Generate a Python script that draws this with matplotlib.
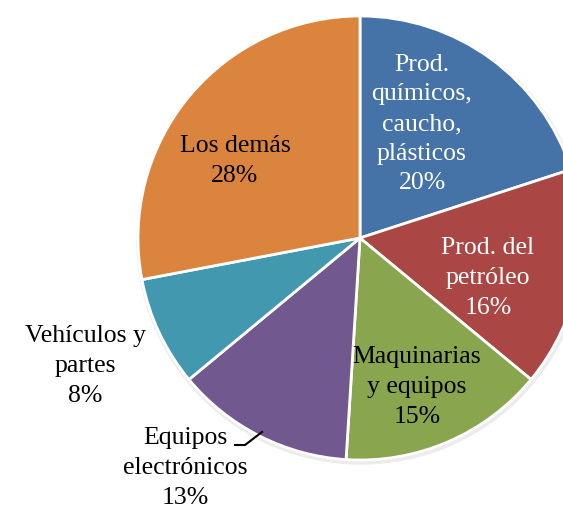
import matplotlib.pyplot as plt

categories = ['Prod.\nquímicos,\ncaucho,\nplásticos', 'Prod. del\npetróleo',
              'Maquinarias\ny equipos', 'Equipos\nelectrónicos',
              'Vehículos y\npartes', 'Los demás']
shares = [20, 16, 15, 13, 8, 28]
colors = ['#4572A7', '#AA4643', '#89A54E', '#71588F', '#4198AF', '#DB843D']
text_colors = ['white', 'white', 'black', 'black', 'black', 'black']
# label centres in pixel coordinates (x, y from top)
label_pos = [(422, 124), (488, 278), (417, 387), (185, 468), (85, 366), (235, 161)]

W, H = 563, 509
fig = plt.figure(figsize=(W / 100, H / 100), dpi=100)
ax = fig.add_axes([0, 0, 1, 1])

cx, cy, r = 360, H - 238, 222

# faint shadow round the pie
shadow = plt.Circle((cx + 1, cy - 2), r + 2, color='#ececec', zorder=0)
ax.add_patch(shadow)

ax.pie(shares, colors=colors, startangle=90, counterclock=False,
       center=(cx, cy), radius=r, frame=True,
       wedgeprops=dict(edgecolor='white', linewidth=2))
ax.set_xlim(0, W)
ax.set_ylim(0, H)
ax.set_aspect('equal')
ax.axis('off')

for name, v, (x, y), tc in zip(categories, shares, label_pos, text_colors):
    ax.text(x, H - y, f'{name}\n{v}%', ha='center', va='center',
            multialignment='center', fontsize=18.5, color=tc,
            family='Liberation Serif', linespacing=1.45)

# leader line for Equipos electrónicos
ax.plot([235, 245, 262], [H - 445, H - 445, H - 432], color='black', lw=1.5)

fig.savefig('out.png', dpi=100)
